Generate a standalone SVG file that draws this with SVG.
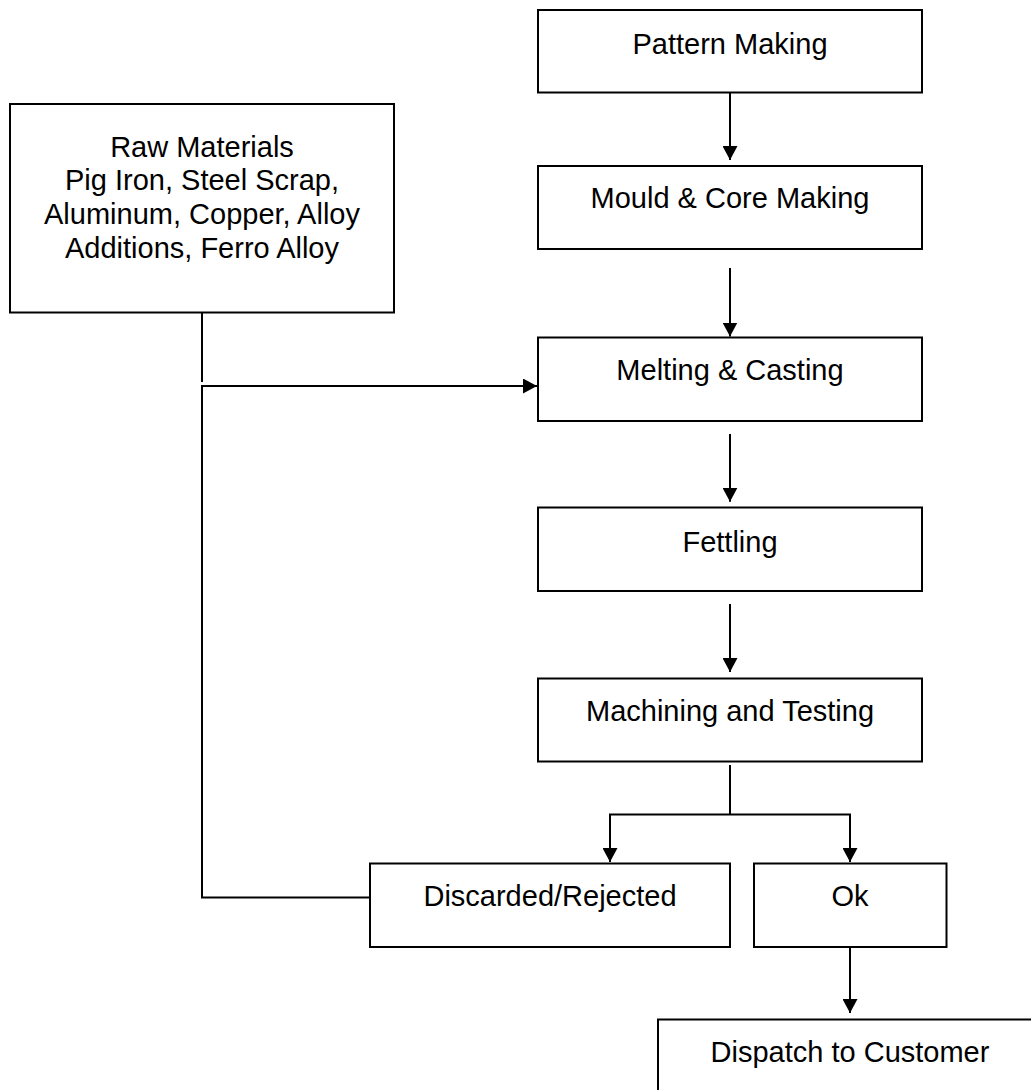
<svg xmlns="http://www.w3.org/2000/svg" width="1031" height="1090" viewBox="0 0 1031 1090">
<style>
.box{fill:#fff;stroke:#000;stroke-width:2}
.lbl{font-family:"Liberation Sans",Arial,sans-serif;font-size:29px;fill:#000;text-anchor:middle}
.conn{fill:none;stroke:#000;stroke-width:2}
</style>
<defs>
<marker id="arr" viewBox="0 0 14 15" refX="14" refY="7.5" markerWidth="14" markerHeight="15" markerUnits="userSpaceOnUse" orient="auto">
<path d="M0,0 L14,7.5 L0,15 Z" fill="#000"/>
</marker>
</defs>
<rect width="1031" height="1090" fill="#fff"/>
<g id="connectors">
<path class="conn" d="M730,92.5 V160" marker-end="url(#arr)"/>
<path class="conn" d="M730,268 V336.5" marker-end="url(#arr)"/>
<path class="conn" d="M730,434 V501.7" marker-end="url(#arr)"/>
<path class="conn" d="M730,604 V672" marker-end="url(#arr)"/>
<path class="conn" d="M202,312.5 V382"/>
<path class="conn" d="M370,897.5 H202 V386 H537" marker-end="url(#arr)"/>
<path class="conn" d="M730,765 V814.5"/>
<path class="conn" d="M730,814.5 H610 V862" marker-end="url(#arr)"/>
<path class="conn" d="M730,814.5 H850 V862" marker-end="url(#arr)"/>
<path class="conn" d="M850,947 V1013" marker-end="url(#arr)"/>
</g>
<g id="pattern">
<rect class="box" x="538" y="10" width="384" height="82.5"/>
<text class="lbl" x="730" y="53.5">Pattern Making</text>
</g>
<g id="raw">
<rect class="box" x="10" y="104" width="384" height="208.5"/>
<text class="lbl" x="202" y="156.5">Raw Materials</text>
<text class="lbl" x="202" y="190.3">Pig Iron, Steel Scrap,</text>
<text class="lbl" x="202" y="224.1">Aluminum, Copper, Alloy</text>
<text class="lbl" x="202" y="257.9">Additions, Ferro Alloy</text>
</g>
<g id="mould">
<rect class="box" x="538" y="166" width="384" height="83"/>
<text class="lbl" x="730" y="208.3">Mould &amp; Core Making</text>
</g>
<g id="melting">
<rect class="box" x="538" y="337.5" width="384" height="83.5"/>
<text class="lbl" x="730" y="380">Melting &amp; Casting</text>
</g>
<g id="fettling">
<rect class="box" x="538" y="507.5" width="384" height="83.5"/>
<text class="lbl" x="730" y="551.7">Fettling</text>
</g>
<g id="machining">
<rect class="box" x="538" y="678.5" width="384" height="83"/>
<text class="lbl" x="730" y="720.7">Machining and Testing</text>
</g>
<g id="discarded">
<rect class="box" x="370" y="863.5" width="360" height="83.5"/>
<text class="lbl" x="550" y="905.7">Discarded/Rejected</text>
</g>
<g id="ok">
<rect class="box" x="754" y="863.5" width="192.5" height="83.5"/>
<text class="lbl" x="850" y="905.7">Ok</text>
</g>
<g id="dispatch">
<rect class="box" x="658" y="1019.5" width="384" height="83"/>
<text class="lbl" x="850" y="1061.7">Dispatch to Customer</text>
</g>
</svg>
